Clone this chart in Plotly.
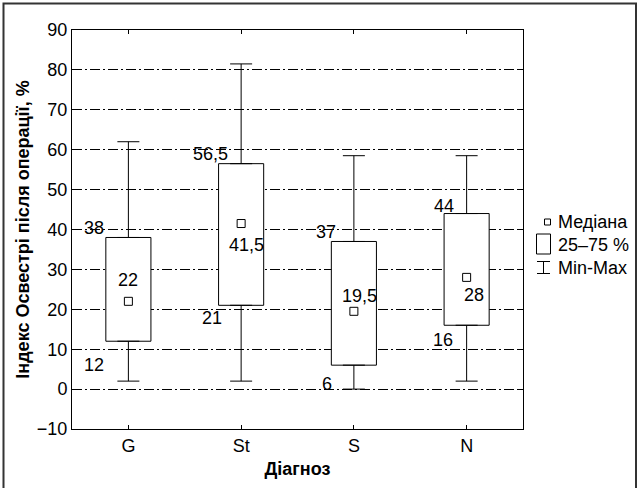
import plotly.graph_objects as go

categories = ["G", "St", "S", "N"]
q1 = [12, 21, 6, 16]
median = [22, 41.5, 19.5, 28]
q3 = [38, 56.5, 37, 44]
vmin = [2, 2, 0, 2]
vmax = [62, 81.5, 58.5, 58.5]
q1_text = ["12", "21", "6", "16"]
median_text = ["22", "41,5", "19,5", "28"]
q3_text = ["38", "56,5", "37", "44"]
yticks = list(range(-10, 91, 10))

FONT = "Liberation Sans, Arial, sans-serif"
FS = 18
xs = list(range(len(categories)))

fig = go.Figure()

# boxes (25-75 %)
fig.add_trace(go.Bar(
    x=xs, y=[b - a for a, b in zip(q1, q3)], base=q1, width=0.4,
    marker=dict(color="white", line=dict(color="black", width=1)),
    showlegend=False, hoverinfo="skip"))

# upper whiskers
fig.add_trace(go.Scatter(
    x=xs, y=q3, mode="markers", marker=dict(size=1, opacity=0),
    error_y=dict(type="data", symmetric=False,
                 array=[b - a for a, b in zip(q3, vmax)],
                 arrayminus=[0] * 4, color="black", thickness=1, width=11),
    showlegend=False, hoverinfo="skip"))
# lower whiskers
fig.add_trace(go.Scatter(
    x=xs, y=q1, mode="markers", marker=dict(size=1, opacity=0),
    error_y=dict(type="data", symmetric=False,
                 array=[0] * 4,
                 arrayminus=[a - b for a, b in zip(q1, vmin)],
                 color="black", thickness=1, width=11),
    showlegend=False, hoverinfo="skip"))

# medians
fig.add_trace(go.Scatter(
    x=xs, y=median, mode="markers",
    marker=dict(symbol="square-open", size=8, color="black", line=dict(width=1)),
    showlegend=False, hoverinfo="skip"))

# value labels
q3_shift = [(-34, 9), (-31, 10), (-28, 9), (-23, 8)]
med_shift = [(0, 21), (5, -21), (6, 15), (7, -18)]
q1_shift = [(-34, -24), (-29, -13), (-27, -19), (-24, -15)]
ann = []
for i in xs:
    for val, txt, sh in ((q3[i], q3_text[i], q3_shift[i]),
                         (median[i], median_text[i], med_shift[i]),
                         (q1[i], q1_text[i], q1_shift[i])):
        ann.append(dict(x=i, y=val, text=txt, showarrow=False,
                        xshift=sh[0], yshift=sh[1],
                        font=dict(family=FONT, size=FS, color="black")))

# legend (custom) in paper coordinates
L, T, W, H = 72, 30, 451, 399
def px(x):
    return (x - L) / W
def py(y):
    return (T + H - y) / H

shapes = []
# outer frame
shapes.append(dict(type="rect", xref="paper", yref="paper",
                   x0=px(3.5), x1=px(636), y0=py(492), y1=py(3.5),
                   line=dict(color="#333", width=2)))
# median symbol
shapes.append(dict(type="rect", xref="paper", yref="paper",
                   x0=px(544.5), x1=px(550.5), y0=py(225), y1=py(219),
                   line=dict(color="black", width=1)))
# box symbol
shapes.append(dict(type="rect", xref="paper", yref="paper",
                   x0=px(536.5), x1=px(550.5), y0=py(254), y1=py(234),
                   line=dict(color="black", width=1)))
# min-max symbol
for (x0, y0, x1, y1) in [(543.5, 261, 543.5, 273), (537, 261.5, 550, 261.5), (537, 273.5, 550, 273.5)]:
    shapes.append(dict(type="line", xref="paper", yref="paper",
                       x0=px(x0), x1=px(x1), y0=py(y0), y1=py(y1),
                       line=dict(color="black", width=1)))
for txt, yy in (("Медіана", 222), ("25–75 %", 245), ("Min-Max", 268)):
    ann.append(dict(x=px(556), y=py(yy), xref="paper", yref="paper",
                    xanchor="left", yanchor="middle", text=txt, showarrow=False,
                    font=dict(family=FONT, size=FS, color="black")))

fig.update_layout(
    width=642, height=488,
    margin=dict(l=L, r=642 - L - W, t=T, b=488 - T - H, autoexpand=False),
    paper_bgcolor="white", plot_bgcolor="white",
    font=dict(family=FONT, size=FS, color="black"),
    annotations=ann, shapes=shapes, showlegend=False,
    xaxis=dict(range=[-0.5, 3.5], tickvals=xs, ticktext=categories,
               automargin=False,
               showgrid=False, zeroline=False, showline=True, linecolor="black",
               linewidth=1, mirror="ticks", ticks="inside", ticklen=4,
               tickcolor="black",
               title=dict(text="<b>Діагноз</b>", font=dict(size=FS), standoff=7)),
    yaxis=dict(range=[-10, 90], tickvals=yticks, automargin=False,
               showgrid=True, gridcolor="black", gridwidth=1,
               griddash="10px,3px,2px,3px", zeroline=False,
               showline=True, linecolor="black", linewidth=1, mirror="ticks",
               ticks="inside", ticklen=4, tickcolor="black",
               title=dict(text="<b>Індекс Освестрі після операції, %</b>",
                          font=dict(size=FS), standoff=2)),
)

fig.write_html("out.html", config={"displayModeBar": False},
               post_script="document.body.style.margin='0';document.body.style.overflow='hidden';")
